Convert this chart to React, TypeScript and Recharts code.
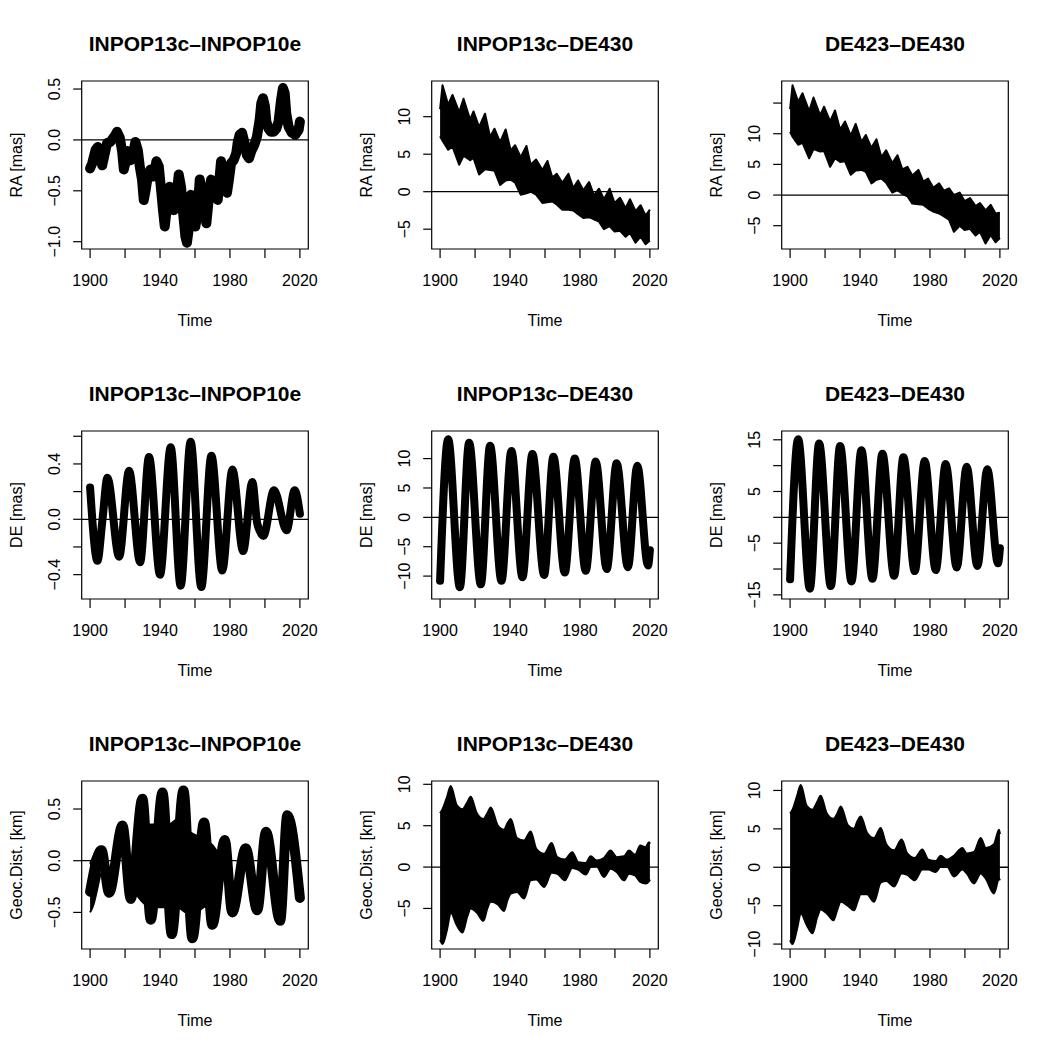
import React from 'react'
import { Area, ComposedChart, Line, ReferenceArea, ReferenceLine, XAxis, YAxis } from 'recharts'

const FONT = '"Liberation Sans", Arial, Helvetica, sans-serif'

// x axis shared by all nine panels
const xTicks = [1900, 1920, 1940, 1960, 1980, 2000, 2020]
const xTickLabels = ['1900', '', '1940', '', '1980', '', '2020']

const titles = ['INPOP13c–INPOP10e', 'INPOP13c–DE430', 'DE423–DE430']
const yLabels = ['RA [mas]', 'DE [mas]', 'Geoc.Dist. [km]']

// [year, value]
const raInpop10e: [number, number][] = [
  [1900.0, -0.28], [1901.2, -0.23], [1903.1, -0.1], [1904.4, -0.07], [1905.9, -0.16], [1906.9, -0.25],
  [1908.2, -0.15], [1909.7, -0.03], [1911.6, -0.02], [1914.5, 0.05], [1915.4, 0.08], [1917.0, 0.02],
  [1918.3, -0.11], [1919.3, -0.29], [1920.4, -0.21], [1921.5, -0.11], [1923.1, -0.2], [1924.6, -0.13],
  [1925.9, -0.02], [1927.3, -0.1], [1928.4, -0.26], [1929.7, -0.39], [1930.7, -0.59], [1931.8, -0.49],
  [1933.0, -0.36], [1934.5, -0.29], [1936.4, -0.36], [1937.9, -0.21], [1939.3, -0.26], [1940.6, -0.49],
  [1941.7, -0.69], [1942.7, -0.85], [1944.0, -0.65], [1945.5, -0.46], [1946.9, -0.52], [1947.8, -0.69],
  [1949.4, -0.56], [1950.7, -0.34], [1952.0, -0.46], [1953.2, -0.72], [1954.5, -0.95], [1955.4, -1.01],
  [1956.6, -0.85], [1957.7, -0.54], [1959.3, -0.65], [1960.2, -0.85], [1961.5, -0.72], [1962.7, -0.39],
  [1964.0, -0.49], [1965.4, -0.69], [1966.5, -0.82], [1967.8, -0.59], [1969.2, -0.39], [1970.7, -0.43],
  [1971.8, -0.56], [1973.0, -0.59], [1974.1, -0.36], [1974.9, -0.21], [1976.0, -0.33], [1977.4, -0.49],
  [1978.3, -0.52], [1979.4, -0.39], [1980.6, -0.23], [1982.1, -0.2], [1983.6, -0.13], [1984.4, -0.03],
  [1985.5, 0.05], [1986.9, 0.07], [1988.2, -0.02], [1989.7, -0.15], [1990.9, -0.18], [1992.2, -0.11],
  [1993.9, -0.05], [1995.4, 0.03], [1997.0, 0.2], [1997.9, 0.36], [1998.9, 0.41], [2000.0, 0.33],
  [2000.8, 0.18], [2002.1, 0.11], [2003.4, 0.08], [2005.0, 0.08], [2006.5, 0.11], [2007.8, 0.18],
  [2009.2, 0.39], [2010.3, 0.51], [2011.3, 0.46], [2012.2, 0.26], [2013.5, 0.13], [2015.4, 0.07],
  [2017.4, 0.05], [2019.3, 0.1], [2020.0, 0.18]
]

// [year, low, high] envelope of the dense bands
const raDe430: [number, number, number][] = [
  [1900.0, 7.4, 11.0], [1901.4, 6.8, 14.2], [1904.6, 5.6, 11.6], [1907.1, 6.0, 12.9], [1910.9, 3.6, 10.6],
  [1913.4, 4.8, 12.4], [1917.2, 4.2, 9.6], [1919.1, 4.5, 10.7], [1922.3, 2.3, 8.6], [1925.7, 3.0, 10.4],
  [1928.6, 2.9, 7.3], [1931.1, 2.8, 8.4], [1934.3, 0.9, 6.6], [1937.5, 1.5, 8.3], [1940.4, 1.6, 5.5],
  [1942.9, 1.2, 6.2], [1946.1, -0.4, 4.6], [1949.4, -0.2, 6.1], [1951.8, 0.0, 3.6], [1954.9, -0.4, 4.3],
  [1958.5, -1.5, 2.9], [1961.4, -1.4, 4.1], [1964.2, -1.3, 1.9], [1966.7, -1.7, 2.4], [1969.9, -2.4, 1.2],
  [1973.4, -2.4, 2.4], [1976.2, -2.5, 0.5], [1978.9, -3.0, 1.5], [1981.9, -3.5, 0.2], [1985.2, -3.4, 1.3],
  [1988.0, -3.7, -0.5], [1990.9, -4.0, 0.4], [1993.7, -5.0, -1.0], [1997.0, -4.6, 0.4], [1999.8, -5.3, -1.5],
  [2002.9, -5.2, -0.8], [2006.1, -6.0, -2.2], [2008.6, -5.5, -1.0], [2011.8, -6.8, -2.6], [2014.7, -6.0, -1.8],
  [2017.5, -7.0, -3.2], [2020.0, -6.5, -2.4]
]

const raDe423: [number, number, number][] = [
  [1900.0, 10.3, 14.0], [1901.4, 9.5, 17.9], [1904.6, 8.2, 15.2], [1907.1, 8.5, 16.6], [1910.9, 6.0, 13.7],
  [1913.4, 7.5, 15.9], [1917.2, 7.1, 13.0], [1919.4, 7.2, 14.4], [1922.9, 4.6, 12.0], [1925.7, 6.0, 13.8],
  [1928.6, 5.4, 10.7], [1931.4, 5.5, 12.0], [1934.7, 3.3, 9.7], [1937.5, 4.0, 11.6], [1940.8, 4.1, 8.7],
  [1943.3, 3.8, 9.8], [1946.5, 1.9, 7.7], [1949.4, 2.5, 9.1], [1952.2, 2.7, 6.2], [1954.9, 2.0, 7.3],
  [1958.5, 0.4, 5.2], [1961.4, 0.8, 6.5], [1964.2, 0.2, 4.2], [1967.1, -0.2, 4.6], [1969.9, -1.4, 3.2],
  [1973.4, -1.5, 4.1], [1976.2, -1.6, 2.2], [1978.9, -2.2, 2.7], [1981.9, -2.7, 1.2], [1985.2, -3.0, 1.9],
  [1988.0, -3.5, 0.7], [1990.9, -4.0, 1.1], [1993.7, -6.0, 0.0], [1997.0, -5.0, 0.4], [1999.8, -5.7, -1.0],
  [2002.9, -5.5, -0.5], [2006.1, -6.6, -1.8], [2008.6, -6.0, -1.3], [2011.8, -7.9, -2.5], [2014.7, -6.5, -1.6],
  [2017.5, -7.7, -3.0], [2020.0, -7.0, -2.9]
]

const deInpop10e: [number, number][] = [
  [1900.0, 0.23], [1904.2, -0.3], [1907.1, 0.0], [1909.9, 0.3], [1916.6, -0.27], [1922.3, 0.35],
  [1928.6, -0.31], [1933.7, 0.45], [1940.0, -0.4], [1946.1, 0.52], [1951.8, -0.48], [1957.5, 0.56],
  [1963.6, -0.49], [1969.4, 0.46], [1975.6, -0.37], [1981.4, 0.36], [1987.5, -0.23], [1992.8, 0.27],
  [1995.6, -0.03], [1999.1, -0.12], [2005.2, 0.21], [2012.4, -0.08], [2017.0, 0.21], [2020.0, 0.04]
]

const deDe430: [number, number][] = [
  [1900.0, -10.8], [1904.6, 13.3], [1911.3, -11.9], [1916.6, 12.7], [1923.3, -11.4], [1928.6, 12.2],
  [1935.1, -10.8], [1940.8, 11.3], [1947.1, -10.2], [1952.8, 10.8], [1959.5, -9.8], [1964.8, 10.3],
  [1971.3, -9.4], [1977.0, 10.0], [1983.3, -9.1], [1989.0, 9.5], [1995.3, -8.8], [2001.0, 9.2],
  [2007.4, -8.5], [2012.8, 8.8], [2018.9, -8.2], [2020.0, -5.6]
]

const deDe423: [number, number][] = [
  [1900.0, -12.0], [1904.6, 15.1], [1911.3, -13.8], [1916.6, 14.3], [1923.3, -13.3], [1928.6, 13.8],
  [1935.1, -12.4], [1940.8, 13.0], [1947.1, -11.9], [1952.8, 12.3], [1959.5, -11.3], [1964.8, 11.6],
  [1971.3, -10.4], [1977.0, 10.9], [1983.3, -10.2], [1989.0, 10.3], [1995.3, -9.7], [2001.0, 9.8],
  [2007.1, -9.4], [2012.8, 9.3], [2018.9, -8.9], [2020.0, -6.0]
]

const geoInpop10e: [number, number][] = [
  [1900.0, -0.3], [1906.5, 0.1], [1910.9, -0.31], [1918.5, 0.34], [1923.3, -0.37], [1929.9, 0.6],
  [1934.7, -0.57], [1941.4, 0.66], [1946.7, -0.71], [1953.4, 0.68], [1958.5, -0.75], [1965.2, 0.37],
  [1969.9, -0.62], [1977.0, 0.2], [1981.3, -0.5], [1989.0, 0.12], [1995.6, -0.48], [2000.6, 0.28],
  [2008.7, -0.58], [2012.8, 0.44], [2020.0, -0.36]
]
const geoInpop10eStart: [number, number, number][] = [
  [1900.0, -0.5, -0.03], [1902.0, -0.42, 0.05], [1904.0, -0.28, 0.12], [1906.0, -0.12, 0.14]
]
const geoInpop10eCloud: [number, number, number][] = [
  [1925.5, -0.3, 0.15], [1930.0, -0.4, 0.3], [1935.0, -0.45, 0.35], [1940.0, -0.45, 0.35], [1945.0, -0.45, 0.35],
  [1950.0, -0.45, 0.4], [1955.0, -0.5, 0.3], [1960.0, -0.5, 0.25], [1965.0, -0.45, 0.2], [1970.0, -0.4, 0.15],
  [1974.0, -0.25, 0.05]
]

const geoDe430: [number, number, number][] = [
  [1900.0, -8.8, 6.5], [1901.4, -9.3, 7.0], [1904.0, -7.5, 8.5], [1906.1, -5.5, 9.8], [1909.5, -7.0, 7.5],
  [1912.8, -7.9, 7.0], [1915.5, -6.0, 7.8], [1917.5, -5.0, 8.5], [1921.0, -5.5, 6.5], [1924.8, -6.5, 5.8],
  [1927.0, -5.0, 6.5], [1929.0, -4.2, 7.2], [1933.0, -4.5, 5.0], [1936.6, -5.3, 4.5], [1938.5, -4.0, 5.3],
  [1940.4, -3.2, 5.8], [1944.0, -3.0, 3.5], [1948.0, -3.8, 3.2], [1951.8, -1.6, 4.3], [1955.0, -1.5, 2.2],
  [1959.5, -2.4, 1.6], [1963.8, -0.7, 2.9], [1967.0, -0.8, 1.2], [1971.3, -1.6, 0.9], [1975.6, -0.1, 1.8],
  [1979.0, -0.3, 0.6], [1983.3, -0.9, 0.5], [1986.1, 0.0, 1.3], [1989.5, 0.1, 0.8], [1993.7, -1.2, 1.1],
  [1997.5, -0.2, 2.0], [2001.0, -0.6, 1.2], [2005.2, -1.6, 1.3], [2008.0, -0.8, 2.0], [2011.5, -1.0, 1.5],
  [2014.5, -1.8, 2.6], [2017.5, -2.0, 2.4], [2019.5, -1.7, 3.0], [2020.0, -1.5, 2.8]
]

const geoDe423: [number, number, number][] = [
  [1900.0, -9.5, 7.0], [1901.4, -10.0, 7.5], [1904.0, -8.0, 9.3], [1906.1, -6.0, 10.7], [1909.5, -7.5, 8.0],
  [1912.8, -8.6, 7.5], [1915.5, -6.5, 8.5], [1917.5, -5.5, 9.3], [1921.0, -6.0, 7.0], [1924.8, -6.9, 6.3],
  [1927.0, -5.5, 7.0], [1929.0, -4.5, 7.9], [1933.0, -5.0, 5.5], [1936.6, -5.6, 5.0], [1938.5, -4.5, 6.0],
  [1940.4, -3.5, 6.6], [1944.0, -3.5, 4.5], [1948.0, -4.5, 3.8], [1951.8, -2.0, 5.1], [1955.0, -1.8, 3.0],
  [1959.5, -2.5, 2.2], [1963.8, -0.8, 3.6], [1967.0, -1.0, 1.8], [1971.3, -1.7, 1.2], [1975.6, -0.3, 2.3],
  [1979.0, -0.3, 1.0], [1983.3, -0.6, 0.8], [1986.1, 0.1, 1.5], [1989.5, 0.2, 1.0], [1993.7, -1.2, 1.5],
  [1998.5, -0.3, 2.5], [2001.0, -0.8, 1.8], [2005.2, -2.1, 2.0], [2009.0, -0.8, 3.8], [2012.0, -1.5, 2.5],
  [2016.6, -3.4, 3.0], [2019.5, -1.5, 4.9], [2020.0, -1.7, 4.3]
]

// y axis ticks per panel
const yTicksList = [
  [-1, -0.5, 0, 0.5], [-5, 0, 5, 10], [-5, 0, 5, 10, 15],
  [-0.4, -0.2, 0, 0.2, 0.4, 0.6], [-10, -5, 0, 5, 10], [-15, -10, -5, 0, 5, 10, 15],
  [-0.5, 0, 0.5], [-5, 0, 5, 10], [-10, -5, 0, 5, 10]
]
const yTickLabelsList = [
  ['−1.0', '−0.5', '0.0', '0.5'], ['−5', '0', '5', '10'], ['−5', '0', '5', '10', ''],
  ['−0.4', '', '0.0', '', '0.4', ''], ['−10', '−5', '0', '5', '10'], ['−15', '', '−5', '', '5', '', '15'],
  ['−0.5', '0.0', '0.5'], ['−5', '0', '5', '10'], ['−10', '−5', '0', '5', '10']
]
const yDomains: [number, number][] = [
  [-1.072, 0.579], [-7.64, 14.76], [-8.8, 18.6],
  [-0.576, 0.638], [-13.9, 14.7], [-15.8, 16.7],
  [-0.854, 0.771], [-9.9, 10.4], [-10.64, 11.23]
]

const X_DOMAIN: [number, number] = [1895.2, 2024.8]
const W = 350
const H = 350

type Curve = 'linear' | 'monotone'
type LineSpec = { data: { year: number; v: number }[]; width: number; curve: Curve }
type AreaSpec = { data: { year: number; range: [number, number] }[]; curve: Curve }

const toLine = (pts: [number, number][], width: number, curve: Curve): LineSpec => ({
  data: pts.map(([year, v]) => ({ year, v })),
  width,
  curve
})
const toArea = (pts: [number, number, number][], curve: Curve): AreaSpec => ({
  data: pts.map(([year, lo, hi]) => ({ year, range: [lo, hi] as [number, number] })),
  curve
})

const panelSeries: { lines: LineSpec[]; areas: AreaSpec[] }[] = [
  { lines: [toLine(raInpop10e, 10, 'linear')], areas: [] },
  { lines: [], areas: [toArea(raDe430, 'linear')] },
  { lines: [], areas: [toArea(raDe423, 'linear')] },
  { lines: [toLine(deInpop10e, 8, 'monotone')], areas: [] },
  { lines: [toLine(deDe430, 8, 'monotone')], areas: [] },
  { lines: [toLine(deDe423, 8, 'monotone')], areas: [] },
  {
    lines: [toLine(geoInpop10e, 10, 'monotone')],
    areas: [toArea(geoInpop10eStart, 'monotone'), toArea(geoInpop10eCloud, 'monotone')]
  },
  { lines: [], areas: [toArea(geoDe430, 'monotone')] },
  { lines: [], areas: [toArea(geoDe423, 'monotone')] }
]

function Panel({ idx }: { idx: number }) {
  const row = Math.floor(idx / 3)
  const col = idx % 3
  const yTicks = yTicksList[idx]
  const yLabelsTick = yTickLabelsList[idx]
  const yDomain = yDomains[idx]
  const { lines, areas } = panelSeries[idx]

  const XTick = (props: any) => {
    const i = xTicks.indexOf(props.payload.value)
    return (
      <text x={props.x} y={286} textAnchor="middle" fontSize={16} fontFamily={FONT} fill="#000">
        {xTickLabels[i]}
      </text>
    )
  }
  const YTick = (props: any) => {
    const i = yTicks.indexOf(props.payload.value)
    return (
      <text
        x={60.5}
        y={props.y}
        transform={`rotate(-90, 60.5, ${props.y})`}
        textAnchor="middle"
        fontSize={16}
        fontFamily={FONT}
        fill="#000"
      >
        {yLabelsTick[i]}
      </text>
    )
  }

  return (
    <div style={{ position: 'absolute', left: col * W, top: row * H, width: W, height: H }}>
      <ComposedChart width={W} height={H} margin={{ top: 81, right: 41.7, bottom: 41, left: 21.7 }}>
        <XAxis
          type="number"
          dataKey="year"
          domain={X_DOMAIN}
          ticks={xTicks}
          interval={0}
          allowDataOverflow
          height={60}
          axisLine={false}
          tickLine={{ stroke: '#000', strokeWidth: 1.2 }}
          tickSize={9}
          tick={XTick}
        />
        <YAxis
          type="number"
          domain={yDomain}
          ticks={yTicks}
          interval={0}
          allowDataOverflow
          width={60}
          axisLine={false}
          tickLine={{ stroke: '#000', strokeWidth: 1.2 }}
          tickSize={8.5}
          tick={YTick}
        />
        {areas.map((a, i) => (
          <Area
            key={`a${i}`}
            data={a.data}
            dataKey="range"
            type={a.curve}
            fill="#000"
            fillOpacity={1}
            stroke="#000"
            strokeWidth={2}
            strokeLinejoin="round"
            dot={false}
            activeDot={false}
            isAnimationActive={false}
          />
        ))}
        {lines.map((l, i) => (
          <Line
            key={`l${i}`}
            data={l.data}
            dataKey="v"
            type={l.curve}
            stroke="#000"
            strokeWidth={l.width}
            strokeLinecap="round"
            strokeLinejoin="round"
            dot={false}
            activeDot={false}
            isAnimationActive={false}
          />
        ))}
        <ReferenceLine y={0} stroke="#000" strokeWidth={1.3} />
        <ReferenceArea
          x1={X_DOMAIN[0]}
          x2={X_DOMAIN[1]}
          y1={yDomain[0]}
          y2={yDomain[1]}
          fill="none"
          fillOpacity={0}
          stroke="#000"
          strokeWidth={1.2}
          ifOverflow="visible"
        />
      </ComposedChart>
      <svg
        width={W}
        height={H}
        style={{ position: 'absolute', left: 0, top: 0, pointerEvents: 'none' }}
        fontFamily={FONT}
      >
        <text x={195} y={50.5} textAnchor="middle" fontWeight="bold" fontSize={21} fill="#000">
          {titles[col]}
        </text>
        <text x={195} y={325.5} textAnchor="middle" fontSize={16} fill="#000">
          Time
        </text>
        <text x={22} y={165} transform="rotate(-90, 22, 165)" textAnchor="middle" fontSize={16} fill="#000">
          {yLabels[row]}
        </text>
      </svg>
    </div>
  )
}

export default function App() {
  return (
    <div style={{ position: 'absolute', left: 0, top: 0, width: 1050, height: 1050, background: '#fff' }}>
      {Array.from({ length: 9 }, (_, i) => (
        <Panel key={i} idx={i} />
      ))}
    </div>
  )
}
